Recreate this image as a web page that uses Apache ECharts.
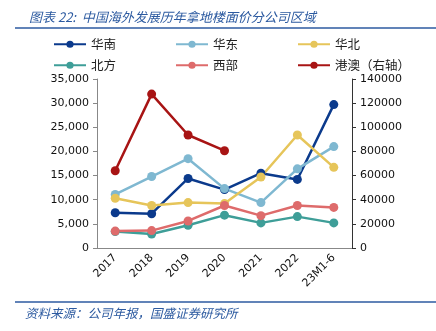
<!DOCTYPE html>
<html><head><meta charset="utf-8">
<script src="https://cdn.jsdelivr.net/npm/echarts@6/dist/echarts.min.js"></script>
<style>html,body{margin:0;padding:0;background:#fff}#c{width:436px;height:331px}</style>
</head><body><div id="c"></div>
<script>
const categories = ['2017','2018','2019','2020','2021','2022','23M1-6'];
const huanan  = [7300, 7100, 14400, 12100, 15500, 14200, 29700];
const huadong = [11100, 14800, 18500, 12300, 9400, 16400, 21000];
const huabei  = [10300, 8800, 9400, 9200, 14700, 23400, 16700];
const beifang = [3400, 2900, 4700, 6800, 5200, 6500, 5200];
const xibu    = [3500, 3600, 5600, 8800, 6700, 8800, 8400];
const gangao  = [64000, 127500, 93600, 80600, null, null, null];
const leftTicks = [0, 5000, 10000, 15000, 20000, 25000, 30000, 35000];
const rightTicks = [0, 20000, 40000, 60000, 80000, 100000, 120000, 140000];

const names = ['华南','华东','华北','北方','西部','港澳（右轴）'];
const colors = ['#0b3a8c','#7fb8d1','#e6c55a','#3e9e98','#de6b6b','#a81414'];
const datas = [huanan, huadong, huabei, beifang, xibu, gangao];

const chart = echarts.init(document.getElementById('c'));
const legendPos = [[48,33],[170,33],[292,33],[48,54],[170,54],[292,54]];
const legends = names.map((n,i)=>({
  data:[n], left:legendPos[i][0], top:legendPos[i][1],
  itemWidth:32, itemHeight:9, itemGap:4,
  textStyle:{fontSize:12.5, color:'#222', fontFamily:'Noto Sans CJK SC'}
}));
const fmt = v => v.toString().replace(/\B(?=(\d{3})+(?!\d))/g, ',');
chart.setOption({
  animation:false,
  title:{text:'图表 22:  中国海外发展历年拿地楼面价分公司区域', left:24, top:6,
    textStyle:{fontSize:13, fontStyle:'italic', fontWeight:'normal', color:'#2c5aa0', fontFamily:'Noto Sans CJK SC'}},
  graphic:[
    {type:'line', shape:{x1:15,y1:28,x2:436,y2:28}, style:{stroke:'#2c5aa0', lineWidth:1.5}},
    {type:'line', shape:{x1:15,y1:302,x2:436,y2:302}, style:{stroke:'#2c5aa0', lineWidth:1.5}},
    {type:'text', left:25, top:307, style:{text:'资料来源：公司年报，国盛证券研究所', fontSize:12.5, fontStyle:'italic', fill:'#2c5aa0', fontFamily:'Noto Sans CJK SC'}}
  ],
  legend: legends,
  grid:{left:97, right:84, top:79, bottom:83},
  xAxis:{type:'category', data:categories, boundaryGap:true,
    axisLine:{lineStyle:{color:'#888'}}, axisTick:{lineStyle:{color:'#888'}, length:4},
    axisLabel:{rotate:45, fontSize:11, color:'#111', fontFamily:'DejaVu Sans', margin:8}},
  yAxis:[
    {type:'value', min:0, max:35000, interval:5000, splitLine:{show:false},
     axisLine:{show:true, lineStyle:{color:'#888'}}, axisTick:{show:true, length:4, lineStyle:{color:'#888'}},
     axisLabel:{fontSize:11, color:'#111', fontFamily:'DejaVu Sans', formatter:v=>fmt(v), margin:8}},
    {type:'value', min:0, max:140000, interval:20000, splitLine:{show:false}, position:'right',
     axisLine:{show:true, lineStyle:{color:'#333'}}, axisTick:{show:true, length:4, lineStyle:{color:'#333'}},
     axisLabel:{fontSize:11, color:'#111', fontFamily:'DejaVu Sans', formatter:v=>String(v), margin:8}}
  ],
  series: names.map((n,i)=>({
    name:n, type:'line', data:datas[i], yAxisIndex: i===5?1:0,
    symbol:'circle', symbolSize:9, color:colors[i],
    lineStyle:{width:2.5, color:colors[i]}, itemStyle:{color:colors[i]}
  }))
});
</script></body></html>
